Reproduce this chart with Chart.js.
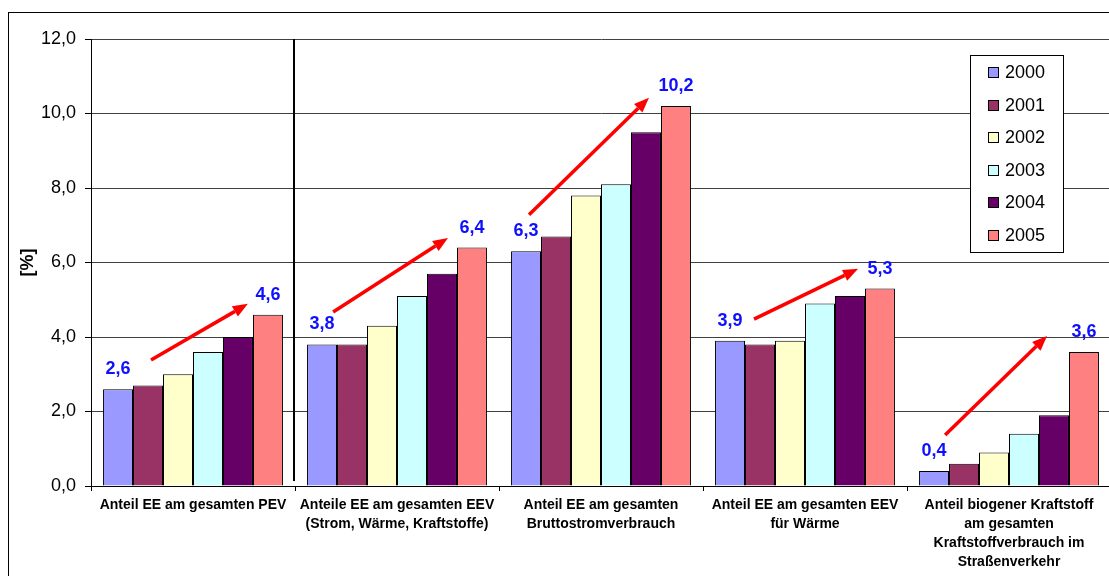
<!DOCTYPE html>
<html><head><meta charset="utf-8">
<script src="https://cdn.jsdelivr.net/npm/chart.js@4/dist/chart.umd.min.js"></script>
<style>
html,body{margin:0;padding:0;background:#fff;overflow:hidden;width:1109px;height:576px;}
#frame{position:absolute;left:8px;top:12px;width:1300px;height:800px;border:1px solid #000;box-sizing:border-box;}
#wrap{position:absolute;left:0;top:0;width:1112px;height:576px;}
</style></head><body>
<div id="frame"></div>
<div id="wrap"><canvas id="c"></canvas></div>
<script>
// ---- data ----
const categories = [
  ["Anteil EE am gesamten PEV"],
  ["Anteile EE am gesamten EEV", "(Strom, Wärme, Kraftstoffe)"],
  ["Anteil EE am gesamten", "Bruttostromverbrauch"],
  ["Anteil EE am gesamten EEV", "für Wärme"],
  ["Anteil biogener Kraftstoff", "am gesamten", "Kraftstoffverbrauch im", "Straßenverkehr"]
];
const years = ["2000", "2001", "2002", "2003", "2004", "2005"];
const v2000 = [2.6, 3.8, 6.3, 3.9, 0.4];
const v2001 = [2.7, 3.8, 6.7, 3.8, 0.6];
const v2002 = [3.0, 4.3, 7.8, 3.9, 0.9];
const v2003 = [3.6, 5.1, 8.1, 4.9, 1.4];
const v2004 = [4.0, 5.7, 9.5, 5.1, 1.9];
const v2005 = [4.6, 6.4, 10.2, 5.3, 3.6];
const colors = ["#9999FF", "#993366", "#FFFFCC", "#CCFFFF", "#660066", "#FF8080"];
const yTicks = [0, 2, 4, 6, 8, 10, 12];
// trend arrows (annotation): bar index position and value level
const arrowFromBar = [1.1, 0.37, 0.1, 0.8, 0.37];
const arrowFromVal = [3.38, 4.67, 7.28, 4.48, 1.37];
const arrowToBar = [4.33, 4.2, 4.1, 4.27, 3.77];
const arrowToVal = [4.89, 6.66, 10.42, 5.83, 4.03];

const series = [v2000, v2001, v2002, v2003, v2004, v2005];
const FONT = "'Liberation Sans', Arial, sans-serif";
const fmt = v => v.toFixed(1).replace('.', ',');

const overlay = {
  id: 'overlay',
  afterDatasetsDraw(chart) {
    const ctx = chart.ctx, ca = chart.chartArea;
    const xs = chart.scales.x, ys = chart.scales.y;
    ctx.save();
    // separator line
    const sx = Math.round((xs.getPixelForValue(0) + xs.getPixelForValue(1)) / 2) - 1;
    ctx.strokeStyle = '#000'; ctx.lineWidth = 2;
    ctx.beginPath(); ctx.moveTo(sx, ca.top); ctx.lineTo(sx, ca.bottom - 5); ctx.stroke();
    // value labels
    const first = chart.getDatasetMeta(0), last = chart.getDatasetMeta(series.length - 1);
    ctx.font = "bold 18px " + FONT; ctx.fillStyle = '#1010FF';
    ctx.textAlign = 'center'; ctx.textBaseline = 'middle';
    for (let i = 0; i < categories.length; i++) {
      [[first, v2000], [last, v2005]].forEach(([m, arr]) => {
        const b = m.data[i];
        ctx.fillText(fmt(arr[i]), b.x, b.y - 20);
      });
    }
    // arrows
    const m0 = chart.getDatasetMeta(0), m1 = chart.getDatasetMeta(1);
    ctx.strokeStyle = '#FF0000'; ctx.fillStyle = '#FF0000'; ctx.lineWidth = 3.5;
    for (let i = 0; i < categories.length; i++) {
      const x0 = m0.data[i].x, step = m1.data[i].x - x0;
      const ax = x0 + arrowFromBar[i] * step, ay = ys.getPixelForValue(arrowFromVal[i]);
      const bx = x0 + arrowToBar[i] * step, by = ys.getPixelForValue(arrowToVal[i]);
      const ang = Math.atan2(by - ay, bx - ax);
      const hl = 15, hw = 6;
      const cx = bx - hl * Math.cos(ang), cy = by - hl * Math.sin(ang);
      ctx.beginPath(); ctx.moveTo(ax, ay); ctx.lineTo(cx, cy); ctx.stroke();
      ctx.beginPath();
      ctx.moveTo(bx, by);
      ctx.lineTo(cx + hw * Math.sin(ang), cy - hw * Math.cos(ang));
      ctx.lineTo(cx - hw * Math.sin(ang), cy + hw * Math.cos(ang));
      ctx.closePath(); ctx.fill();
    }
    // legend box
    const lx = ca.right - 141, ly = ca.top + 16, lw = 93, lh = 197;
    ctx.fillStyle = '#fff'; ctx.fillRect(lx, ly, lw, lh);
    ctx.strokeStyle = '#000'; ctx.lineWidth = 1;
    ctx.strokeRect(lx + 0.5, ly + 0.5, lw, lh);
    ctx.font = "18px " + FONT; ctx.textAlign = 'left'; ctx.textBaseline = 'middle';
    chart.data.datasets.forEach((ds, k) => {
      const ry = ly + 17.5 + k * 32.5;
      ctx.fillStyle = ds.backgroundColor;
      ctx.fillRect(lx + 18, Math.round(ry - 5.5), 11, 11);
      ctx.strokeStyle = '#000';
      ctx.strokeRect(lx + 18.5, Math.round(ry - 5.5) + 0.5, 10, 10);
      ctx.fillStyle = '#000';
      ctx.fillText(ds.label, lx + 35, ry + 1);
    });
    ctx.restore();
  }
};

new Chart(document.getElementById('c'), {
  type: 'bar',
  data: {
    labels: categories,
    datasets: years.map((y, k) => ({
      label: y, data: series[k], backgroundColor: colors[k],
      borderColor: '#000', borderWidth: 1,
      categoryPercentage: 0.882, barPercentage: 1.0
    }))
  },
  options: {
    responsive: true, maintainAspectRatio: false, animation: false,
    devicePixelRatio: 1,
    layout: { padding: { top: 39, right: 1, left: 0, bottom: 0 } },
    plugins: { legend: { display: false }, tooltip: { enabled: false } },
    scales: {
      x: {
        grid: { drawOnChartArea: false, drawTicks: true, tickLength: 5, color: '#000', offset: true },
        border: { display: true, color: '#000', width: 1 },
        ticks: { color: '#000', font: { family: FONT, size: 14, weight: 'bold', lineHeight: 1.36 }, padding: 5, maxRotation: 0, autoSkip: false },
        afterFit(s) { s.height = 90; }
      },
      y: {
        min: 0, max: 12,
        afterBuildTicks(s) { s.ticks = yTicks.map(v => ({ value: v })); },
        grid: { color: '#404040', lineWidth: 1, drawTicks: true, tickLength: 6, tickColor: '#000' },
        border: { display: true, color: '#000', width: 1 },
        ticks: { color: '#000', font: { family: FONT, size: 18 }, padding: 9, callback: v => fmt(v) },
        title: { display: true, text: '[%]', color: '#000', font: { family: FONT, size: 18, weight: 'bold' }, padding: { top: 17, bottom: 0 } },
        afterFit(s) { s.width = 91; }
      }
    }
  },
  plugins: [overlay]
});
</script>
</body></html>
